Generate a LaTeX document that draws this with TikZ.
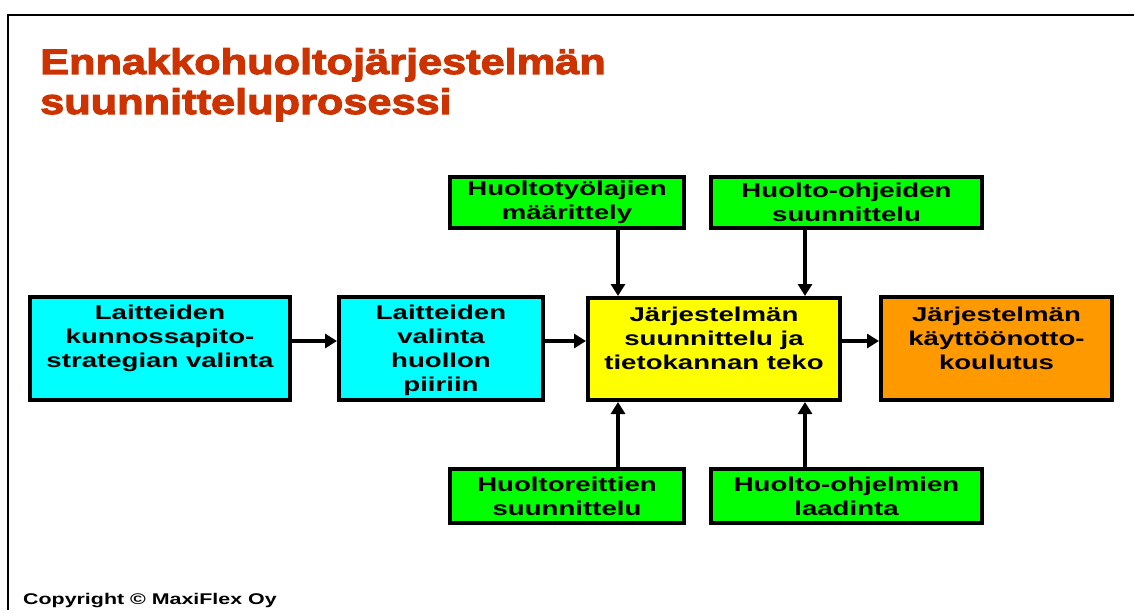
\documentclass[tikz,border=0pt]{standalone}
\usepackage{fontspec}
\usetikzlibrary{arrows.meta}
\newfontfamily\boxfont{Liberation Sans Bold}[FakeStretch=1.38]
\newfontfamily\titlefont{Liberation Sans Bold}[FakeStretch=1.22,FakeBold=3]
\definecolor{titlered}{HTML}{CC3300}
\definecolor{boxcyan}{HTML}{00FFFF}
\definecolor{boxyellow}{HTML}{FFFF00}
\definecolor{boxorange}{HTML}{FF9900}
\definecolor{boxgreen}{HTML}{00FF00}
\begin{document}
\begin{tikzpicture}[x=1pt,y=-1pt,
  box/.style={draw=black, line width=4pt, inner sep=0pt, align=center,
    font=\boxfont\fontsize{20}{24}\selectfont},
  txt/.style={inner sep=0pt, align=center, font=\boxfont\fontsize{20}{24}\selectfont},
  arr/.style={line width=4.5pt, -{Triangle[length=12pt,width=14pt]}}]
\useasboundingbox (0,0) rectangle (1134,610);
% frame
\draw[line width=2pt] (8,610) -- (8,15) -- (1134,15);
% title
\node[anchor=base west, inner sep=0pt, text=titlered,
  font=\titlefont\fontsize{35.5}{40}\selectfont] (title1) at (40,74) {Ennakkohuoltojärjestelmän};
\node[anchor=base west, inner sep=0pt, text=titlered,
  font=\titlefont\fontsize{35.5}{40}\selectfont] (title2) at (40,114) {suunnitteluprosessi};
% main row boxes
\node[box, fill=boxcyan, minimum width=260pt, minimum height=103pt] (A) at (160,348.5) {};
\node[box, fill=boxcyan, minimum width=204pt, minimum height=103pt] (B) at (441,348.5) {};
\node[box, fill=boxyellow, minimum width=252pt, minimum height=102pt] (C) at (714,349) {};
\node[box, fill=boxorange, minimum width=231pt, minimum height=103pt] (D) at (996.5,348.5) {};
\node[txt] (At) at (160,338) {Laitteiden\\kunnossapito-\\strategian valinta};
\node[txt] (Bt) at (441,350) {Laitteiden\\valinta\\huollon\\piiriin};
\node[txt] (Ct) at (714,338) {Järjestelmän\\suunnittelu ja\\tietokannan teko};
\node[txt] (Dt) at (996.5,338) {Järjestelmän\\käyttöönotto-\\koulutus};
% green boxes
\node[box, fill=boxgreen, minimum width=234pt, minimum height=51pt] (T1) at (567,202.5) {Huoltotyölajien\\määrittely};
\node[box, fill=boxgreen, minimum width=271pt, minimum height=51pt] (T2) at (846.5,202.5) {Huolto-ohjeiden\\suunnittelu};
\node[box, fill=boxgreen, minimum width=234pt, minimum height=54pt] (U1) at (567,496) {Huoltoreittien\\suunnittelu};
\node[box, fill=boxgreen, minimum width=271pt, minimum height=54pt] (U2) at (846.5,496) {Huolto-ohjelmien\\laadinta};
% connectors
\coordinate (ay) at (0,341);
\coordinate (x1) at (618,0);
\coordinate (x2) at (805,0);
\draw[arr] (A.east |- ay) -- (B.west |- ay);
\draw[arr] (B.east |- ay) -- (C.west |- ay);
\draw[arr] (C.east |- ay) -- (D.west |- ay);
\draw[arr] (T1.south -| x1) -- (C.north -| x1);
\draw[arr] (T2.south -| x2) -- (C.north -| x2);
\draw[arr] (U1.north -| x1) -- (C.south -| x1);
\draw[arr] (U2.north -| x2) -- (C.south -| x2);
% copyright
\node[anchor=base west, inner sep=0pt, font=\boxfont\fontsize{15.5}{18}\selectfont] (copy) at (23,604) {Copyright © MaxiFlex Oy};
\end{tikzpicture}
\end{document}
